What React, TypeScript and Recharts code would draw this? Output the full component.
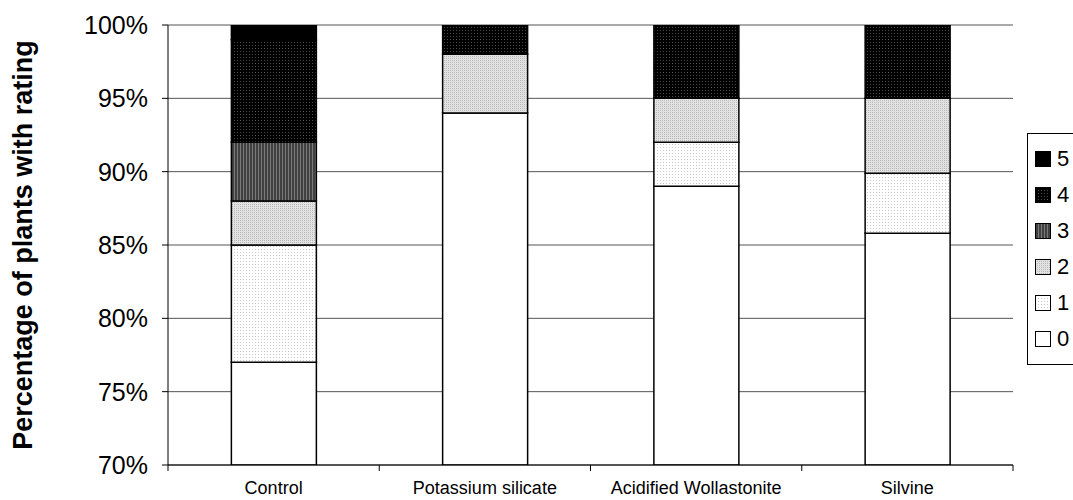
import { BarChart, Bar, XAxis, YAxis, CartesianGrid, Legend } from "recharts";

const treatments = ["Control", "Potassium silicate", "Acidified Wollastonite", "Silvine"];
const rating0 = [77, 94, 89, 85.8];
const rating1 = [8, 0, 3, 4.1];
const rating2 = [3, 4, 3, 5.1];
const rating3 = [4, 0, 0, 0];
const rating4 = [7, 2, 5, 5];
const rating5 = [1, 0, 0, 0];
const yTicks = [70, 75, 80, 85, 90, 95, 100];

const data = treatments.map((name, i) => ({
  name,
  r0: rating0[i],
  r1: rating1[i],
  r2: rating2[i],
  r3: rating3[i],
  r4: rating4[i],
  r5: rating5[i],
}));

const series = [
  { key: "r0", label: "0", fill: "#ffffff" },
  { key: "r1", label: "1", fill: "url(#pat1)" },
  { key: "r2", label: "2", fill: "url(#pat2)" },
  { key: "r3", label: "3", fill: "url(#pat3)" },
  { key: "r4", label: "4", fill: "url(#pat4)" },
  { key: "r5", label: "5", fill: "#000000" },
];

const font = "'Liberation Sans', Arial, sans-serif";

function CategoryTick(props: any) {
  const { x, y, payload, index } = props;
  const half = payload?.offset ?? 105.6;
  return (
    <g>
      <line x1={x - half} y1={y} x2={x - half} y2={y + 6} stroke="#000" />
      {index === treatments.length - 1 && (
        <line x1={x + half} y1={y} x2={x + half} y2={y + 6} stroke="#000" />
      )}
      <text x={x} y={y + 29} textAnchor="middle" fontSize={18} fontFamily={font} fill="#000">
        {payload.value}
      </text>
    </g>
  );
}

function LegendBox() {
  const items = [...series].reverse();
  return (
    <div
      style={{
        border: "1px solid #000",
        padding: "7px 0 7px 7px",
        width: 60,
        background: "#fff",
        fontFamily: font,
      }}
    >
      {items.map((s) => (
        <div key={s.key} style={{ display: "flex", alignItems: "center", height: 36 }}>
          <svg width={16} height={16} style={{ marginRight: 6 }}>
            <rect x={0.5} y={0.5} width={15} height={15} fill={s.fill} stroke="#000" />
          </svg>
          <span style={{ fontSize: 22, color: "#000" }}>{s.label}</span>
        </div>
      ))}
    </div>
  );
}

export default function App() {
  return (
    <div style={{ position: "absolute", left: 0, top: 0, background: "#fff" }}>
      <BarChart
        width={1073}
        height={500}
        data={data}
        margin={{ top: 25, right: 60, bottom: 0, left: 0 }}
        barCategoryGap="30%"
      >
        <defs>
          <pattern id="pat1" width="3" height="3" patternUnits="userSpaceOnUse">
            <rect width="3" height="3" fill="#ffffff" />
            <rect x="0" y="0" width="1" height="1" fill="#c8c8c8" />
          </pattern>
          <pattern id="pat2" width="2" height="2" patternUnits="userSpaceOnUse">
            <rect width="2" height="2" fill="#e2e2e2" />
            <rect x="0" y="0" width="1" height="1" fill="#b8b8b8" />
          </pattern>
          <pattern id="pat3" width="3" height="3" patternUnits="userSpaceOnUse">
            <rect width="3" height="3" fill="#404040" />
            <rect x="0" y="0" width="1" height="3" fill="#7a7a7a" />
          </pattern>
          <pattern id="pat4" width="3" height="3" patternUnits="userSpaceOnUse">
            <rect width="3" height="3" fill="#000000" />
            <rect x="0" y="0" width="1" height="1" fill="#4a4a4a" />
          </pattern>
        </defs>
        <CartesianGrid vertical={false} stroke="#555" />
        <XAxis
          dataKey="name"
          axisLine={{ stroke: "#000" }}
          tickLine={false}
          tickSize={0}
          tickMargin={0}
          tick={<CategoryTick />}
          interval={0}
          height={35}
        />
        <YAxis
          domain={[70, 100]}
          ticks={yTicks}
          allowDataOverflow
          width={168}
          axisLine={{ stroke: "#000" }}
          tickLine={{ stroke: "#000" }}
          tickSize={6}
          tickMargin={14}
          tickFormatter={(v: number) => `${v}%`}
          tick={{ fill: "#000", fontSize: 25, fontFamily: font }}
          label={{
            value: "Percentage of plants with rating",
            angle: -90,
            position: "insideLeft",
            offset: 22,
            style: { textAnchor: "middle", fontSize: 27, fontWeight: "bold", fontFamily: font, fill: "#000" },
          }}
        />
        <YAxis
          yAxisId="right"
          orientation="right"
          domain={[70, 100]}
          width={0}
          tick={false}
          tickLine={false}
          axisLine={{ stroke: "#000" }}
        />
        <Legend
          layout="vertical"
          align="center"
          verticalAlign="middle"
          wrapperStyle={{ top: 133, left: 1027, right: "auto", width: 60 }}
          content={() => <LegendBox />}
        />
        {series.map((s) => (
          <Bar
            key={s.key}
            dataKey={s.key}
            stackId="a"
            fill={s.fill}
            stroke="#000"
            strokeWidth={1.5}
            isAnimationActive={false}
          />
        ))}
      </BarChart>
    </div>
  );
}
